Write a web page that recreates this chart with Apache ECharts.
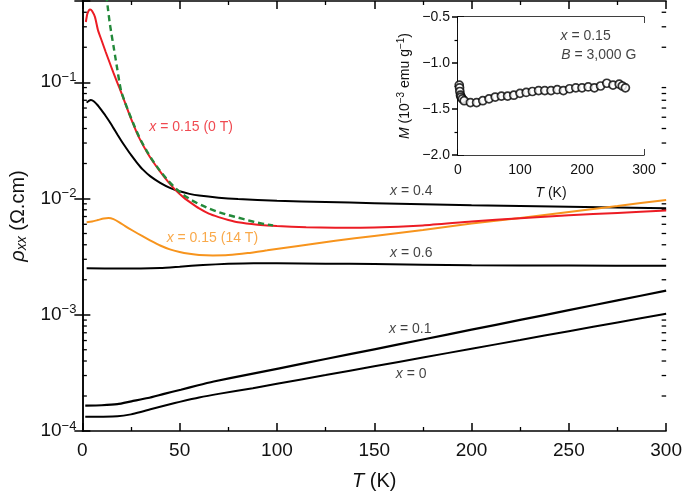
<!DOCTYPE html>
<html><head><meta charset="utf-8">
<script src="https://cdn.jsdelivr.net/npm/echarts@6/dist/echarts.min.js"></script>
<style>html,body{margin:0;padding:0;background:#fff}#c{width:685px;height:496px}</style>
</head><body><div id="c"></div>
<script>
// ---------- data (T in K, rho in ohm.cm) ----------
const rho015_0T = [[1.8,0.33],[2.5,0.385],[3.3,0.415],[4,0.423],[5,0.41],[6.5,0.363],[8,0.2818],[10,0.2265],[12,0.182],[14,0.1479],[16,0.1202],[18,0.0989],[20,0.0813],[22,0.0661],[24,0.0537],[26,0.0442],[28,0.0367],[30,0.0313],[33,0.0254],[36,0.0211],[40,0.017],[44,0.01396],[48,0.01175],[52,0.01023],[56,0.00912],[60,0.00822],[65,0.00741],[70,0.00692],[75,0.00653],[80,0.00624],[90,0.00596],[100,0.00579],[115,0.00565],[130,0.0056],[150,0.00562],[175,0.00586],[200,0.00634],[225,0.00676],[250,0.00716],[275,0.00752],[300,0.00789]];
const rho015_fit = [[12.3,0.56],[13,0.45],[14,0.33],[15,0.258],[16,0.205],[17,0.162],[18,0.128],[19,0.101],[20,0.083],[22,0.0665],[24,0.0545],[26,0.045],[28,0.0375],[30,0.0318],[33,0.0258],[36,0.0214],[40,0.0172],[44,0.0143],[48,0.0122],[52,0.01075],[56,0.0097],[60,0.00895],[65,0.0082],[70,0.00765],[75,0.0072],[80,0.00685],[85,0.0065],[90,0.0062],[95,0.00597],[98,0.00587]];
const rho04 = [[2.2,0.0668],[3.3,0.0692],[4.4,0.0705],[6,0.0684],[8,0.0631],[10,0.0569],[12,0.0513],[14,0.0457],[16,0.0403],[18,0.0355],[20,0.0314],[22,0.028],[25,0.0237],[28,0.0204],[31,0.0178],[35,0.0155],[40,0.01365],[45,0.01236],[50,0.01153],[55,0.01096],[60,0.01059],[70,0.01016],[80,0.00989],[100,0.00955],[125,0.00933],[150,0.00912],[200,0.00875],[250,0.00849],[300,0.00826]];
const rho015_14T = [[2.2,0.00624],[5,0.00634],[8,0.00653],[11,0.00673],[13.5,0.00679],[16,0.00664],[19,0.00624],[22,0.00579],[26,0.00528],[30,0.00483],[35,0.00435],[40,0.00394],[45,0.00365],[50,0.00347],[55,0.00335],[60,0.00327],[67,0.00324],[75,0.00326],[85,0.00339],[95,0.00358],[110,0.00389],[130,0.00433],[150,0.00476],[175,0.00537],[200,0.0061],[225,0.00679],[250,0.00767],[275,0.00863],[300,0.00971]];
const rho06 = [[2.2,0.00251],[20,0.0025],[30,0.0025],[40,0.00252],[50,0.00259],[62,0.00268],[75,0.00274],[88,0.00277],[100,0.00277],[125,0.00275],[150,0.00273],[200,0.00267],[250,0.00265],[300,0.00264]];
const rho01 = [[1.5,1.655e-4],[10,1.665e-4],[18,1.701e-4],[25.2,1.8e-4],[33.7,1.921e-4],[42,2.086e-4],[50.6,2.265e-4],[59,2.465e-4],[67.5,2.666e-4],[84.4,3.041e-4],[101.3,3.46e-4],[125,4.161e-4],[150,5.043e-4],[175,6.124e-4],[200,7.437e-4],[225,9.03e-4],[250,1.0945e-3],[275,1.329e-3],[300,1.611e-3]];
const rho0 = [[1.5,1.323e-4],[10,1.326e-4],[18,1.337e-4],[25,1.39e-4],[30,1.457e-4],[35,1.539e-4],[40,1.617e-4],[45,1.698e-4],[50,1.78e-4],[60,1.941e-4],[70,2.086e-4],[87.6,2.337e-4],[100,2.548e-4],[125,3.029e-4],[150,3.606e-4],[175,4.285e-4],[200,5.103e-4],[225,6.064e-4],[250,7.222e-4],[275,8.583e-4],[300,1.0219e-3]];
// inset: magnetisation M (1e-3 emu/g) vs T
const insetT = [2,2.5,3,4,5,7,10,20,30,40,50,60,70,80,90,100,110,120,130,140,150,160,170,180,190,200,210,220,230,240,250,260,265,270];
const insetM = [-1.24,-1.27,-1.31,-1.35,-1.37,-1.39,-1.41,-1.43,-1.43,-1.41,-1.39,-1.37,-1.36,-1.36,-1.35,-1.33,-1.32,-1.31,-1.30,-1.30,-1.30,-1.29,-1.30,-1.28,-1.27,-1.27,-1.26,-1.27,-1.25,-1.22,-1.24,-1.23,-1.25,-1.27];
// tick labels
const yDecadeExponents = [-4,-3,-2,-1];
// curve annotations (anchor in data units)
const mainLabelText = ['x = 0.15 (0 T)','x = 0.4','x = 0.15 (14 T)','x = 0.6','x = 0.1','x = 0'];
const mainLabelT = [55.9,169,66.8,169,168.5,169];
const mainLabelRho = [0.0412,0.0115,0.00458,0.00341,7.59e-4,3.06e-4];
const insetLabelText = ['x = 0.15','B = 3,000 G'];
const insetLabelT = [164.5,165.6];
const insetLabelM = [-0.707,-0.913];

// ---------- chart ----------
const FONT = "'Liberation Sans', Arial, Helvetica, sans-serif";
const INK = '#111';
const RED = '#ec1c24', ORANGE = '#f7941d', GREEN = '#23893a';
const labelColors = [RED, INK, ORANGE, INK, INK, INK];

// minor log ticks 2..9 per decade
const minorVals = [];
yDecadeExponents.forEach(e => { for (let m = 2; m <= 9; m++) { const v = m * Math.pow(10, e); if (v < 0.5) minorVals.push(v); } });

const axLine = {show:true, lineStyle:{color:'#000', width:1.5}};
const tickMajor = (len) => ({show:true, inside:true, length:len, lineStyle:{color:'#000', width:1.5}});
const italicRich = (size) => ({
  i:{fontStyle:'italic', fontSize:size, fontFamily:FONT, color:INK},
  sup:{fontSize:Math.round(size*0.68), fontFamily:FONT, color:INK, padding:[0,0,Math.round(size*0.55),0]},
  sub:{fontStyle:'italic', fontSize:Math.round(size*0.68), fontFamily:FONT, color:INK, padding:[Math.round(size*0.45),0,0,0]}
});

function decadeLabel(v){
  const l = Math.log10(v), e = Math.round(l);
  if (Math.abs(l - e) > 1e-6 || !yDecadeExponents.includes(e)) return '';
  return '10{sup|\u2212' + (-e) + '}';
}

const yMain = {type:'log', logBase:10, min:1e-4, max:0.5, gridIndex:0, splitLine:{show:false}};
const lineBase = {type:'line', xAxisIndex:0, yAxisIndex:0, showSymbol:false, smooth:0.2};

const option = {
  animation:false,
  backgroundColor:'#fff',
  textStyle:{fontFamily:FONT},
  grid:[
    {left:77, top:1, width:591, height:434},
    {left:458, top:17, width:186, height:138, show:true, backgroundColor:'#fff', borderWidth:0, z:5}
  ],
  xAxis:[
    {gridIndex:0, type:'value', min:0, max:300, interval:50, position:'bottom',
     axisLine:axLine, axisTick:tickMajor(8),
     minorTick:{show:true, splitNumber:2, length:4, lineStyle:{color:'#000', width:1.3}},
     splitLine:{show:false}, minorSplitLine:{show:false},
     axisLabel:{fontSize:19, color:INK, margin:10, fontFamily:FONT},
     name:'{i|T} (K)', nameLocation:'middle', nameGap:40,
     nameTextStyle:{fontSize:20, color:INK, fontFamily:FONT, rich:italicRich(20)}},
    {gridIndex:0, type:'value', min:0, max:300, interval:50, position:'top',
     axisLine:axLine, axisTick:tickMajor(8),
     minorTick:{show:true, splitNumber:2, length:4, lineStyle:{color:'#000', width:1.3}},
     splitLine:{show:false}, axisLabel:{show:false}},
    {gridIndex:1, type:'value', min:0, max:300, interval:100, position:'bottom',
     axisLine:axLine, axisTick:tickMajor(6),
     minorTick:{show:true, splitNumber:2, length:3.5, lineStyle:{color:'#000', width:1.2}},
     splitLine:{show:false},
     axisLabel:{fontSize:14, color:INK, margin:8, fontFamily:FONT},
     name:'{i|T} (K)', nameLocation:'middle', nameGap:31,
     nameTextStyle:{fontSize:14, color:INK, fontFamily:FONT, rich:italicRich(14)}},
    {gridIndex:1, type:'value', min:0, max:300, interval:100, position:'top',
     axisLine:axLine, axisTick:tickMajor(6),
     minorTick:{show:true, splitNumber:2, length:3.5, lineStyle:{color:'#000', width:1.2}},
     splitLine:{show:false}, axisLabel:{show:false}}
  ],
  yAxis:[
    Object.assign({}, yMain, {position:'left', axisLine:axLine, axisTick:tickMajor(8),
      axisLabel:{fontSize:19, color:INK, margin:6, fontFamily:FONT, formatter:decadeLabel, rich:italicRich(19)},
      name:'{i|\u03c1}{sub|xx} (\u03a9.cm)', nameLocation:'middle', nameGap:50, nameRotate:90,
      nameTextStyle:{fontSize:20, color:INK, fontFamily:FONT, rich:italicRich(20)}}),
    Object.assign({}, yMain, {position:'right', axisLine:axLine, axisTick:tickMajor(8), axisLabel:{show:false}}),
    {gridIndex:1, type:'value', min:-2, max:-0.5, interval:0.5, position:'left',
     axisLine:axLine, axisTick:tickMajor(6),
     minorTick:{show:true, splitNumber:2, length:3.5, lineStyle:{color:'#000', width:1.2}},
     splitLine:{show:false},
     axisLabel:{fontSize:14, color:INK, margin:8, fontFamily:FONT, formatter:v => (v<0?'\u2212':'') + Math.abs(v).toFixed(1)},
     name:'{i|M} (10{sup|\u22123} emu g{sup|\u22121})', nameLocation:'middle', nameGap:44, nameRotate:90,
     nameTextStyle:{fontSize:14, color:INK, fontFamily:FONT, rich:italicRich(14)}},
    {gridIndex:1, type:'value', min:-2, max:-0.5, interval:0.5, position:'right',
     axisLine:axLine, axisTick:tickMajor(6),
     minorTick:{show:true, splitNumber:2, length:3.5, lineStyle:{color:'#000', width:1.2}},
     splitLine:{show:false}, axisLabel:{show:false}}
  ],
  series:[
    // minor log ticks on left and right of the main frame, placed through the y scale
    {type:'custom', xAxisIndex:0, yAxisIndex:0, silent:true, clip:false, z:3,
     data: minorVals.map(v => [0, v]), encode:{x:0, y:1},
     renderItem:(params, api) => {
       const v = api.value(1);
       const pL = api.coord([0, v]), pR = api.coord([300, v]);
       return {type:'group', children:[
         {type:'line', shape:{x1:pL[0], y1:pL[1], x2:pL[0]+4.5, y2:pL[1]}, style:{stroke:'#000', lineWidth:1.3}},
         {type:'line', shape:{x1:pR[0]-4.5, y1:pR[1], x2:pR[0], y2:pR[1]}, style:{stroke:'#000', lineWidth:1.3}}
       ]};
     }},
    Object.assign({}, lineBase, {name:'x=0', data:rho0, lineStyle:{color:'#000', width:2}}),
    Object.assign({}, lineBase, {name:'x=0.1', data:rho01, lineStyle:{color:'#000', width:2.2}}),
    Object.assign({}, lineBase, {name:'x=0.6', data:rho06, lineStyle:{color:'#000', width:2}}),
    Object.assign({}, lineBase, {name:'x=0.4', data:rho04, lineStyle:{color:'#000', width:2}}),
    Object.assign({}, lineBase, {name:'x=0.15 14T', data:rho015_14T, lineStyle:{color:ORANGE, width:2}}),
    Object.assign({}, lineBase, {name:'x=0.15 0T', data:rho015_0T, lineStyle:{color:RED, width:2}}),
    Object.assign({}, lineBase, {name:'fit', data:rho015_fit, lineStyle:{color:GREEN, width:2.4, type:[6,4]}}),
    {type:'scatter', name:'labels', xAxisIndex:0, yAxisIndex:0, symbolSize:1, itemStyle:{color:'rgba(0,0,0,0)'}, silent:true,
     data: mainLabelText.map((t,i) => ({value:[mainLabelT[i], mainLabelRho[i]],
       label:{show:true, position:'inside', formatter:t.replace(/^(\w)/,'{i|$1}'), fontSize:14, fontFamily:FONT, color:labelColors[i],
         rich:{i:{fontStyle:'italic', fontSize:14, fontFamily:FONT, color:labelColors[i]}}}}))},
    {type:'scatter', name:'M', xAxisIndex:2, yAxisIndex:2, z:6, symbol:'circle', symbolSize:8,
     itemStyle:{color:'#fff', borderColor:'#000', borderWidth:1.7},
     data: insetT.map((t,i) => [t, insetM[i]])},
    {type:'scatter', name:'insetLabels', xAxisIndex:2, yAxisIndex:2, z:6, symbolSize:1, itemStyle:{color:'rgba(0,0,0,0)'}, silent:true,
     data: insetLabelText.map((t,i) => ({value:[insetLabelT[i], insetLabelM[i]],
       label:{show:true, position:'right', distance:0, formatter:t.replace(/^(\w)/,'{i|$1}'), fontSize:14, fontFamily:FONT, color:INK,
         rich:{i:{fontStyle:'italic', fontSize:14, fontFamily:FONT, color:INK}}}}))}
  ]
};
const chart = echarts.init(document.getElementById('c'), null, {renderer:'canvas'});
chart.setOption(option);
</script></body></html>
